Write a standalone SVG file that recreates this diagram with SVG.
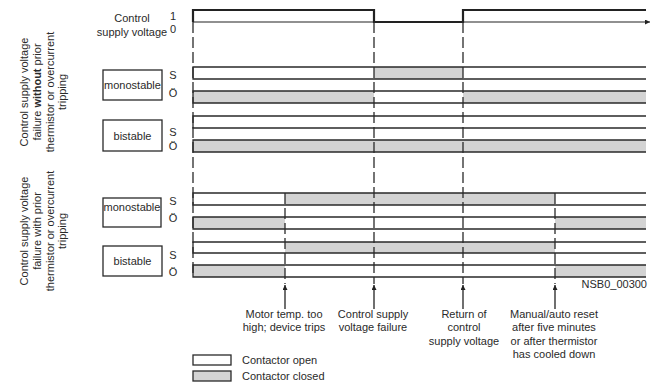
<svg xmlns="http://www.w3.org/2000/svg" width="661" height="383" viewBox="0 0 661 383">
<defs>
<marker id="ah" viewBox="0 0 10 10" refX="10" refY="5" markerWidth="7" markerHeight="5" markerUnits="userSpaceOnUse" orient="auto">
<path d="M0,0 L10,5 L0,10 z" fill="#222"/>
</marker>
<marker id="ahs" viewBox="0 0 10 10" refX="10" refY="5" markerWidth="8" markerHeight="5" markerUnits="userSpaceOnUse" orient="auto">
<path d="M0,0 L10,5 L0,10 z" fill="#222"/>
</marker>
</defs>
<style>
text{font-family:"Liberation Sans",Arial,sans-serif;font-size:11px;fill:#2a2a2a}
.c{text-anchor:middle}
.row{fill:none;stroke:#2a2a2a;stroke-width:1.3}
.g{fill:#d3d3d3;stroke:none}
.box{fill:#fff;stroke:#2a2a2a;stroke-width:1.3}
.dash{stroke:#2a2a2a;stroke-width:1.3;stroke-dasharray:11 4;fill:none}
.arr{stroke:#222;stroke-width:1.3;fill:none;marker-end:url(#ah)}
</style>
<rect width="661" height="383" fill="#fff"/>

<!-- side labels -->
<g id="label-without">
<text transform="translate(0,92) rotate(-90)" class="c"><tspan x="0" y="28">Control supply voltage</tspan><tspan x="0" y="41">failure <tspan font-weight="bold">without</tspan> prior</tspan><tspan x="0" y="54">thermistor or overcurrent</tspan><tspan x="0" y="66">tripping</tspan></text>
</g>
<g id="label-with">
<text transform="translate(0,231) rotate(-90)" class="c"><tspan x="0" y="28">Control supply voltage</tspan><tspan x="0" y="41">failure with prior</tspan><tspan x="0" y="54">thermistor or overcurrent</tspan><tspan x="0" y="66">tripping</tspan></text>
</g>

<!-- control supply voltage -->
<g id="csv">
<text class="c" x="132" y="22">Control</text>
<text class="c" x="132" y="36">supply voltage</text>
<text class="c" x="173" y="20" font-size="10">1</text>
<text class="c" x="173" y="33" font-size="10">0</text>
<path d="M193,22 H650" fill="none" stroke="#222" stroke-width="1.2" marker-end="url(#ahs)"/>
<path d="M193,22 V10 H374 V22 H463 V10 H646" fill="none" stroke="#222" stroke-width="2.2"/>
</g>

<!-- upper section -->
<g id="upper-mono">
<rect class="box" x="103" y="70" width="59" height="30"/>
<text class="c" x="132.5" y="89">monostable</text>
<text class="c" x="173" y="79">S</text>
<text class="c" x="173" y="97">Ö</text>
<rect class="g" x="374" y="67" width="89" height="12"/>
<path class="row" d="M646,67 H193 V79 H646"/>
<rect class="g" x="193" y="91" width="181" height="12"/>
<rect class="g" x="463" y="91" width="183" height="12"/>
<path class="row" d="M646,91 H193 V103 H646"/>
</g>
<g id="upper-bi">
<rect class="box" x="103" y="120" width="59" height="31"/>
<text class="c" x="132.5" y="140">bistable</text>
<text class="c" x="173" y="136">S</text>
<text class="c" x="173" y="150">Ö</text>
<path class="row" d="M646,116 H193 V128 H646"/>
<rect class="g" x="193" y="140" width="453" height="12"/>
<path class="row" d="M646,140 H193 V152 H646"/>
</g>

<!-- lower section -->
<g id="lower-mono">
<rect class="box" x="103" y="198" width="58" height="29"/>
<text class="c" x="132" y="211">monostable</text>
<text class="c" x="173" y="205">S</text>
<text class="c" x="173" y="222">Ö</text>
<rect class="g" x="285" y="193" width="270" height="12"/>
<path class="row" d="M646,193 H193 V205 H646"/>
<rect class="g" x="193" y="217" width="92" height="12"/>
<rect class="g" x="555" y="217" width="91" height="12"/>
<path class="row" d="M646,217 H193 V229 H646"/>
</g>
<g id="lower-bi">
<rect class="box" x="103" y="246" width="59" height="30"/>
<text class="c" x="132.5" y="265">bistable</text>
<text class="c" x="173" y="259">S</text>
<text class="c" x="173" y="276">Ö</text>
<rect class="g" x="285" y="242" width="270" height="11"/>
<path class="row" d="M646,242 H193 V253 H646"/>
<rect class="g" x="193" y="265" width="92" height="12"/>
<rect class="g" x="555" y="265" width="91" height="12"/>
<path class="row" d="M646,265 H193 V277 H646"/>
</g>

<!-- connectors: time markers -->
<g id="connectors">
<path class="dash" d="M193,22 V277"/>
<path class="dash" d="M374,22 V284"/>
<path class="dash" d="M463,22 V284"/>
<path class="dash" d="M285,193 V284"/>
<path class="dash" d="M555,193 V284"/>
<path class="arr" d="M285,309 V285"/>
<path class="arr" d="M374,309 V285"/>
<path class="arr" d="M463,309 V285"/>
<path class="arr" d="M555,309 V285"/>
</g>

<!-- event labels -->
<g id="ev1"><text class="c" x="284" y="318">Motor temp. too</text><text class="c" x="284" y="331">high; device trips</text></g>
<g id="ev2"><text class="c" x="373" y="318">Control supply</text><text class="c" x="373" y="331">voltage failure</text></g>
<g id="ev3"><text class="c" x="464" y="318">Return of</text><text class="c" x="464" y="331">control</text><text class="c" x="464" y="345">supply voltage</text></g>
<g id="ev4"><text class="c" x="554" y="318">Manual/auto reset</text><text class="c" x="554" y="331">after five minutes</text><text class="c" x="554" y="345">or after thermistor</text><text class="c" x="554" y="358">has cooled down</text></g>

<text x="647" y="288" font-size="9" text-anchor="end">NSB0_00300</text>

<!-- legend -->
<g id="legend-open"><rect class="box" x="193" y="355" width="38" height="10"/><text x="242" y="364">Contactor open</text></g>
<g id="legend-closed"><rect x="193" y="371" width="38" height="10" fill="#d3d3d3" stroke="#2a2a2a" stroke-width="1.3"/><text x="242" y="380">Contactor closed</text></g>
</svg>
